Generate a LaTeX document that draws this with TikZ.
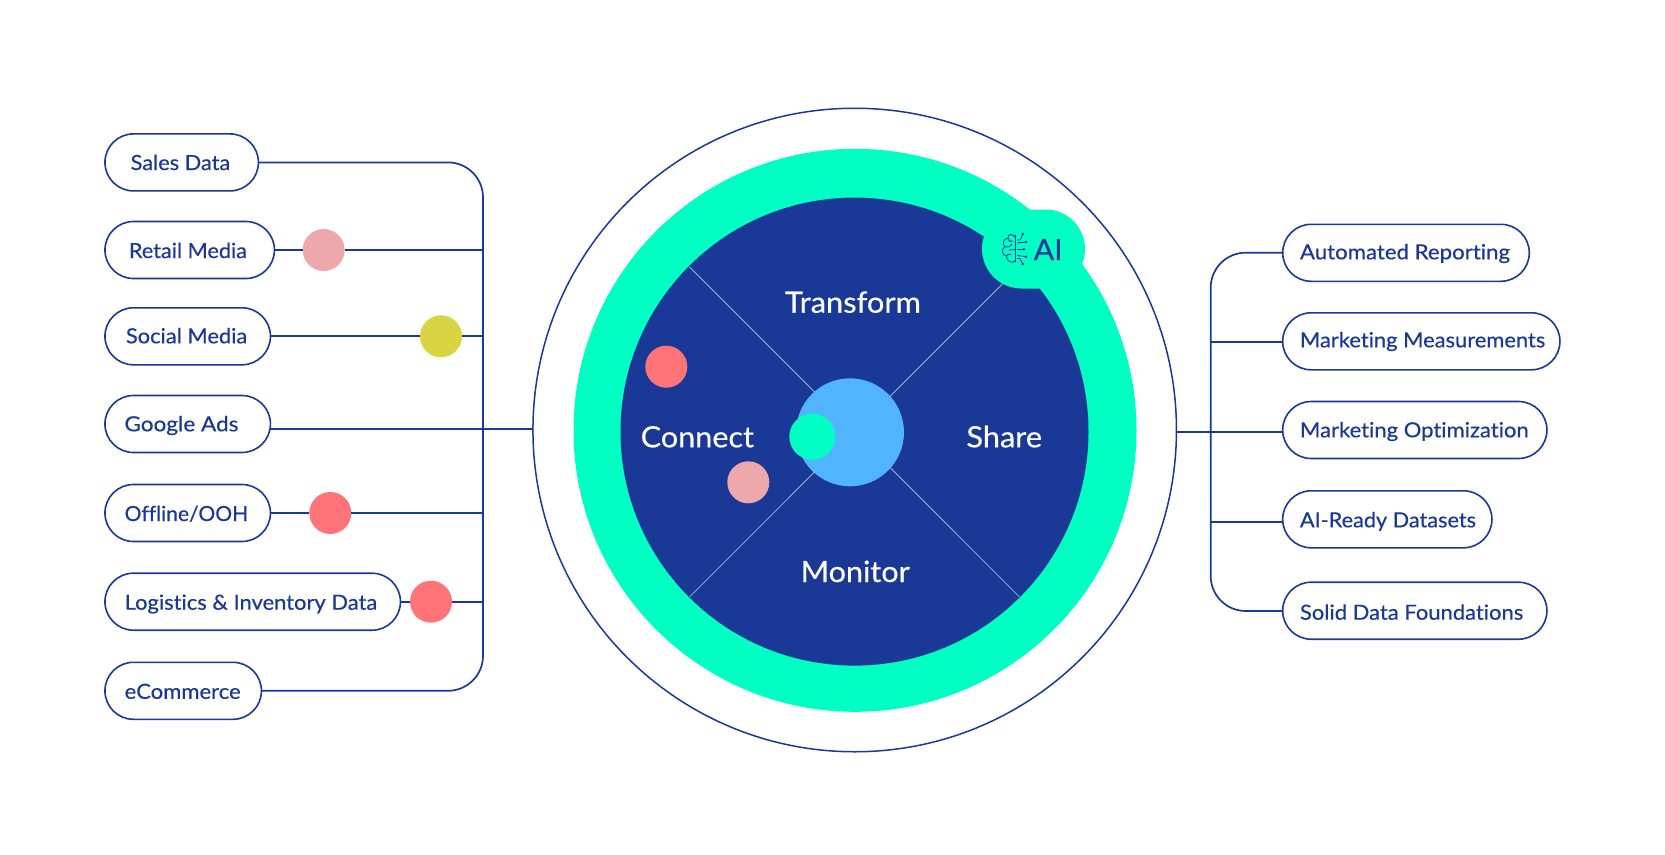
\documentclass[tikz,border=0pt]{standalone}
\usepackage{graphicx}
\usepackage{fontspec}
\setmainfont[FakeBold=0.35,Ligatures=NoCommon]{Lato}
\definecolor{navy}{HTML}{1A3896}
\definecolor{mint}{HTML}{00FFC2}
\definecolor{sky}{HTML}{50B4FF}
\definecolor{coral}{HTML}{FF7478}
\definecolor{rose}{HTML}{EDA8AC}
\definecolor{olive}{HTML}{D9D444}
\newcommand{\pilltxt}[5]{\makebox[#1pt][l]{\hspace*{#2pt}\raisebox{#5pt}{\resizebox{#3pt}{\height}{#4}}}}
\newcommand{\bigtxt}[2]{\resizebox{#1pt}{\height}{#2}}
\tikzset{
  pill/.style={draw=navy,fill=white,line width=1.6pt,rounded corners=28.5pt,inner sep=0pt,outer sep=0pt,
    minimum height=57pt,text height=15pt,text depth=0pt,text=navy,font=\fontsize{20.8pt}{24pt}\selectfont},
  link/.style={draw=navy,line width=1.7pt},
  dot/.style={circle,inner sep=0pt,outer sep=0pt,minimum size=42pt},
  ring/.style={circle,inner sep=0pt,outer sep=0pt},
  stage/.style={anchor=base west,inner sep=0pt,text=white,font=\fontsize{29.3pt}{34pt}\selectfont},
  spoke/.style={draw=white,draw opacity=.5,line width=1pt},
  brain/.style={draw=navy,line width=.8pt,line cap=round}
}
\begin{document}
\begin{tikzpicture}[x=1pt,y=-1pt]
\useasboundingbox (0,0) rectangle (1665,854);
\fill[white] (0,0) rectangle (1665,854);
% rings
\node[ring,draw=navy,line width=1.5pt,fill=white,minimum size=643.5pt] (outer) at (854.7,430) {};
\node[ring,fill=mint,minimum size=563pt] (green) at (855,430.3) {};
\node[ring,fill=navy,minimum size=468pt] (disc) at (854.5,431.6) {};
% spokes
\coordinate (tl) at (689.5,266.8);
\coordinate (tr) at (1019.5,266.8);
\coordinate (bl) at (689.5,597);
\coordinate (br) at (1019.5,597);
\draw[spoke] (tl) -- (br);
\draw[spoke] (tr) -- (bl);
% hub
\node[ring,fill=sky,minimum size=108pt] (hub) at (850,432.3) {};
\node[ring,fill=mint,minimum size=46pt] (seed) at (812.3,436.7) {};
\node[dot,fill=coral] (dc1) at (666.3,366.7) {};
\node[dot,fill=rose] (dc2) at (748.3,482.3) {};
% AI badge
\node[fill=mint,rounded corners=39.5pt,inner sep=0pt,minimum width=103pt,minimum height=79pt] (badge) at (1033.5,249) {};
\node[anchor=base west,inner sep=0pt,text=navy,font=\fontsize{29.3pt}{34pt}\selectfont] (ailabel) at (1033.5,260) {\bigtxt{29}{AI}};
\draw[brain] (1015.7,235) -- (1015.7,262);
\draw[brain] (1015.7,238) .. controls (1013,232.5) and (1007,234) .. (1008,238.5) .. controls (1003,238) and (1002,244.5) .. (1005,246.5) .. controls (1001,249) and (1002,255.5) .. (1006.5,256) .. controls (1006,261) and (1013,265) .. (1015.7,260);
\draw[brain] (1008,238.5) .. controls (1010,242) .. (1013,241);
\draw[brain] (1005,246.5) .. controls (1008,248) and (1011,246) .. (1012,244);
\draw[brain] (1015.7,249.5) -- (1009,250);
\draw[brain] (1006.5,256) .. controls (1008,254) .. (1011,254.5);
\draw[brain] (1017.5,240) -- (1020,240) -- (1022.7,234.5);
\draw[brain] (1017.5,243) -- (1026,242);
\draw[brain] (1017.5,249.3) -- (1024,249.3);
\draw[brain] (1017.5,255.5) -- (1026,256.7);
\draw[brain] (1017.5,258.5) -- (1020,258.5) -- (1022.7,264);
\fill[navy] (1022.7,234) circle (1.4) (1026,242) circle (1.4) (1024,249.3) circle (1.4) (1026,256.7) circle (1.4) (1022.7,264) circle (1.4);
% stage labels
\node[stage] (transform) at (784.7,312.7) {\bigtxt{136}{Transform}};
\node[stage] (connect) at (640.5,447.3) {\bigtxt{113.3}{Connect}};
\node[stage] (share) at (966.2,447.3) {\bigtxt{75.6}{Share}};
\node[stage] (monitor) at (800.5,582) {\bigtxt{109}{Monitor}};
% left pills
\node[pill,minimum width=153.5pt] (s1) at (181.7,162.4) {\pilltxt{153.5}{25.7}{99.6}{Sales Data}{-.1}};
\node[pill,minimum width=169.5pt] (s2) at (189.7,250) {\pilltxt{169.5}{24}{118}{Retail Media}{-.5}};
\node[pill,minimum width=165.5pt] (s3) at (187.7,336.3) {\pilltxt{165.5}{21}{121.3}{Social Media}{.5}};
\node[pill,minimum width=165.5pt] (s4) at (187.7,424) {\pilltxt{165.5}{19.5}{114}{Google Ads}{.2}};
\node[pill,minimum width=165.5pt] (s5) at (187.7,513) {\pilltxt{165.5}{19.7}{123.5}{Offline/OOH}{-.5}};
\node[pill,minimum width=295.5pt] (s6) at (252.7,601.7) {\pilltxt{295.5}{19.7}{252.6}{Logistics \& Inventory Data}{-.5}};
\node[pill,minimum width=156.5pt] (s7) at (183.2,690.8) {\pilltxt{156.5}{19.7}{116}{eCommerce}{-.5}};
% left dots
\node[dot,fill=rose] (d2) at (323.7,250) {};
\node[dot,fill=olive] (d3) at (441,336.3) {};
\node[dot,fill=coral] (d5) at (330.3,513) {};
\node[dot,fill=coral] (d6) at (431,601.7) {};
% left bus
\coordinate (bt) at (483,162.4);
\coordinate (bb) at (483,690.8);
\coordinate (j2) at (483,250);
\coordinate (j3) at (483,336.3);
\coordinate (j4) at (533,428.7);
\coordinate (j5) at (483,513);
\coordinate (j6) at (483,601.7);
\draw[link,rounded corners=35pt] (s1.east) -- (bt) -- (bb) -- (s7.east);
\draw[link] (s2.east) -- (d2);
\draw[link] (d2) -- (j2);
\draw[link] (s3.east) -- (d3);
\draw[link] (d3) -- (j3);
\draw[link] (s4.east |- j4) -- (j4);
\draw[link] (s5.east) -- (d5);
\draw[link] (d5) -- (j5);
\draw[link] (s6.east) -- (d6);
\draw[link] (d6) -- (j6);
% right pills
\node[pill,minimum width=246.6pt] (r1) at (1406,252.8) {\pilltxt{246.6}{17.3}{210}{Automated Reporting}{1}};
\node[pill,minimum width=277.3pt] (r2) at (1421.3,341.3) {\pilltxt{277.3}{17.3}{245.3}{Marketing Measurements}{1.5}};
\node[pill,minimum width=264.3pt] (r3) at (1414.8,430) {\pilltxt{264.3}{17.3}{228.7}{Marketing Optimization}{.2}};
\node[pill,minimum width=209.3pt] (r4) at (1387.3,519.3) {\pilltxt{209.3}{17.3}{176}{AI-Ready Datasets}{-.5}};
\node[pill,minimum width=264.3pt] (r5) at (1414.8,610.7) {\pilltxt{264.3}{17.3}{223.3}{Solid Data Foundations}{-1.5}};
% right bus
\coordinate (k1) at (1210.7,252.7);
\coordinate (k2) at (1210.7,342.3);
\coordinate (k3) at (1176.7,432);
\coordinate (k4) at (1210.7,521.7);
\coordinate (k5) at (1210.7,611);
\draw[link,rounded corners=35pt] (r1.west |- k1) -- (k1) -- (k5) -- (r5.west |- k5);
\draw[link] (k2) -- (r2.west |- k2);
\draw[link] (k3) -- (r3.west |- k3);
\draw[link] (k4) -- (r4.west |- k4);
\end{tikzpicture}
\end{document}
